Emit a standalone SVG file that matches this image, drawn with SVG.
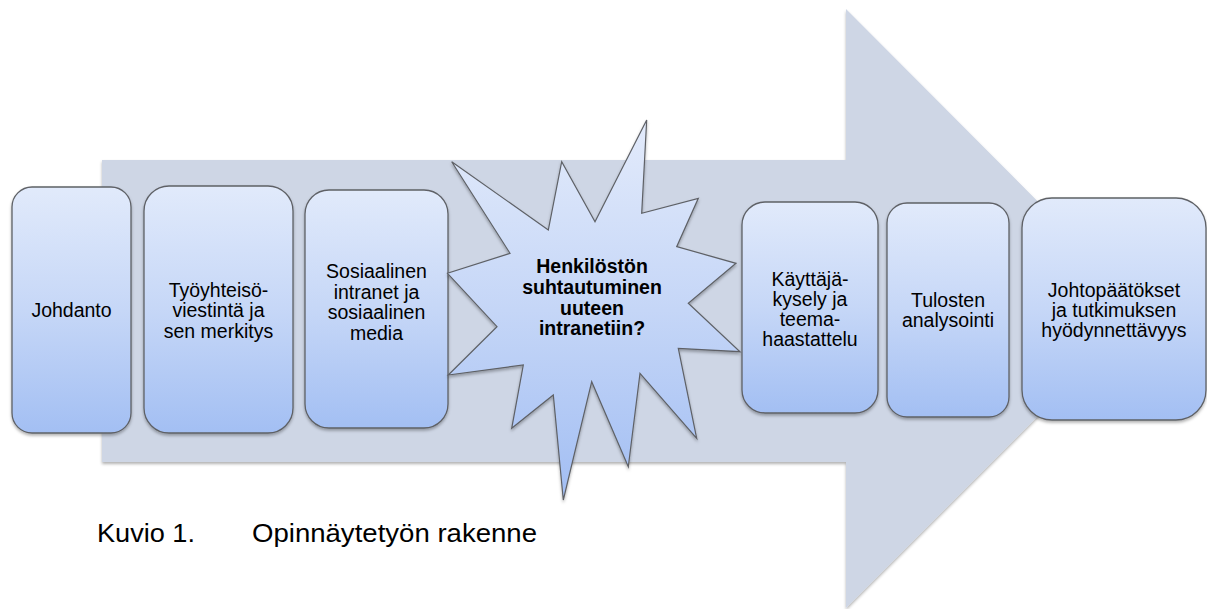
<svg xmlns="http://www.w3.org/2000/svg" width="1207" height="609" viewBox="0 0 1207 609">
  <defs>
    <linearGradient id="boxGrad" x1="0" y1="0" x2="0" y2="1">
      <stop offset="0" stop-color="#e1eafb"/>
      <stop offset="0.5" stop-color="#c6d7f7"/>
      <stop offset="1" stop-color="#a3bff3"/>
    </linearGradient>
    <linearGradient id="burstGrad" x1="0" y1="0" x2="0" y2="1">
      <stop offset="0" stop-color="#e3ebfb"/>
      <stop offset="0.5" stop-color="#c5d6f7"/>
      <stop offset="1" stop-color="#a2bef3"/>
    </linearGradient>
    <filter id="shadow" x="-10%" y="-10%" width="120%" height="125%">
      <feDropShadow dx="0" dy="2" stdDeviation="1.8" flood-color="#000" flood-opacity="0.3"/>
    </filter>
  </defs>
  <style>
    .box { fill: url(#boxGrad); stroke: #5e6166; stroke-width: 1.3; filter: url(#shadow); }
    .burst { fill: url(#burstGrad); stroke: #5e6166; stroke-width: 1.2; stroke-linejoin: miter; filter: url(#shadow); }
    .lbl { font-family: "Liberation Sans", Arial, sans-serif; font-size: 19.5px; fill: #000; text-anchor: middle; }
    .bold { font-weight: bold; }
    .cap { font-family: "Liberation Sans", Arial, sans-serif; font-size: 25px; fill: #000; }
  </style>

  <g id="arrow">
    <polygon points="102,160 846,160 846,9 1145,309 846,608 846,462 102,462" fill="#ced6e5" filter="url(#shadow)"/>
  </g>

  <g id="connectors"></g>

  <g id="node-johdanto">
    <rect class="box" x="12" y="187" width="119" height="246" rx="20" ry="20"/>
    <text class="lbl" x="71.5" y="317">Johdanto</text>
  </g>

  <g id="node-tyoyhteiso">
    <rect class="box" x="144" y="186" width="149" height="247" rx="25" ry="25"/>
    <text class="lbl" x="218.5" y="296.7">Työyhteisö-</text>
    <text class="lbl" x="218.5" y="317.3">viestintä ja</text>
    <text class="lbl" x="218.5" y="337.9">sen merkitys</text>
  </g>

  <g id="node-sosiaalinen">
    <rect class="box" x="305" y="190" width="143" height="238" rx="24" ry="24"/>
    <text class="lbl" x="376.5" y="278">Sosiaalinen</text>
    <text class="lbl" x="376.5" y="298.5">intranet ja</text>
    <text class="lbl" x="376.5" y="319">sosiaalinen</text>
    <text class="lbl" x="376.5" y="339.5">media</text>
  </g>

  <g id="node-henkilosto">
    <polygon class="burst" points="646.7,120 641.7,213.3 698.3,198.3 676.7,246.7 736,263.3 688.3,303.3 740,351.7 678.3,348.3 696.7,438.3 640,373.3 628.3,466.7 591.7,381.7 563.3,500 553.3,395 511.7,428.3 523.3,365 448.3,375 497,326.7 447.5,273.3 510,253.3 451.7,161.7 548.3,230 561.7,161.7 595,221.7"/>
    <text class="lbl bold" x="592" y="273.3">Henkilöstön</text>
    <text class="lbl bold" x="592" y="294">suhtautuminen</text>
    <text class="lbl bold" x="592" y="314.5">uuteen</text>
    <text class="lbl bold" x="592" y="335">intranetiin?</text>
  </g>

  <g id="node-kayttaja">
    <rect class="box" x="742" y="202" width="136" height="211" rx="23" ry="23"/>
    <text class="lbl" x="810" y="286">Käyttäjä-</text>
    <text class="lbl" x="810" y="306">kysely ja</text>
    <text class="lbl" x="810" y="326">teema-</text>
    <text class="lbl" x="810" y="346">haastattelu</text>
  </g>

  <g id="node-tulosten">
    <rect class="box" x="887" y="203" width="122" height="214" rx="20" ry="20"/>
    <text class="lbl" x="948" y="306.7">Tulosten</text>
    <text class="lbl" x="948" y="326.7">analysointi</text>
  </g>

  <g id="node-johtopaatokset">
    <rect class="box" x="1022" y="198" width="184" height="222" rx="30" ry="30"/>
    <text class="lbl" x="1114" y="296.7">Johtopäätökset</text>
    <text class="lbl" x="1114" y="316.7">ja tutkimuksen</text>
    <text class="lbl" x="1114" y="336.7">hyödynnettävyys</text>
  </g>

  <g id="caption">
    <text class="cap" x="97" y="541.7" textLength="98" lengthAdjust="spacingAndGlyphs">Kuvio 1.</text>
    <text class="cap" x="252" y="541.7" textLength="285" lengthAdjust="spacingAndGlyphs">Opinnäytetyön rakenne</text>
  </g>
</svg>
